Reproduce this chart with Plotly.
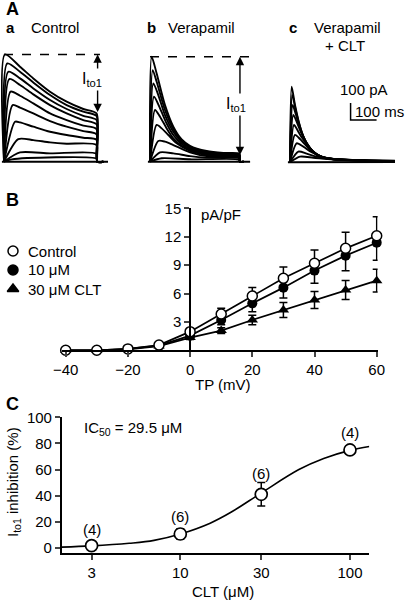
import math
import plotly.graph_objects as go

W, H = 407, 602
FONT = "Arial, Liberation Sans, Helvetica, sans-serif"

# ---------------- Panel A data (time in ms, current in pA) ----------------
a_t = [
    [0, 3.8, 61.5, 112.8, 177, 241, 305, 356, 359, 382],
    [0, 12.8, 61.5, 112.8, 177, 241, 305, 356, 359, 382],
    [0, 16.7, 61.5, 112.8, 177, 241, 305, 356, 359, 382],
    [0, 20.5, 61.5, 112.8, 177, 241, 305, 356, 359, 382],
    [0, 25.6, 61.5, 112.8, 177, 241, 305, 356, 359, 382],
    [0, 33.3, 61.5, 112.8, 177, 241, 305, 356, 359, 382],
    [0, 42.3, 61.5, 112.8, 177, 241, 305, 356, 359, 382],
    [0, 55, 112.8, 177, 241, 356, 359, 382],
    [0, 61.5, 177, 356, 359, 382],
    [0, 30, 356, 359, 382],
    [-8, 408],
]
a_i = [
    [0, 631, 559, 490, 412, 353, 310, 284, 0, 0],
    [0, 578, 529, 466, 392, 333, 294, 269, 0, 0],
    [0, 529, 490, 431, 363, 310, 270, 245, 0, 0],
    [0, 486, 451, 396, 333, 284, 245, 220, 0, 0],
    [0, 412, 388, 343, 284, 245, 212, 192, 0, 0],
    [0, 333, 318, 284, 239, 206, 180, 161, 0, 0],
    [0, 235, 231, 206, 176, 157, 141, 129, 0, 0],
    [0, 133, 127, 114, 106, 98, 0, 0],
    [0, 55, 49, 47, 0, 0],
    [0, 14, 18, 0, 0],
    [0, 0],
]

b_t = [
    [0, 6.4, 25.6, 57.7, 89.7, 121.8, 153.8, 217.9, 282, 343.6, 346, 360],
    [0, 10.3, 25.6, 57.7, 89.7, 121.8, 153.8, 217.9, 282, 343.6, 346, 360],
    [0, 12.8, 32, 57.7, 89.7, 121.8, 153.8, 217.9, 282, 343.6, 346, 360],
    [0, 15.4, 38.5, 64.1, 89.7, 121.8, 153.8, 217.9, 282, 343.6, 346, 360],
    [0, 19.2, 38.5, 64.1, 89.7, 121.8, 153.8, 217.9, 282, 343.6, 346, 360],
    [0, 25.6, 44.9, 70.5, 102.6, 153.8, 217.9, 282, 343.6, 346, 360],
    [0, 32, 57.7, 89.7, 153.8, 217.9, 343.6, 346, 360],
    [0, 38.5, 89.7, 153.8, 217.9, 343.6, 346, 360],
    [0, 44.9, 153.8, 343.6, 346, 360],
    [-8, 385],
]
b_i = [
    [0, 617, 519, 333, 206, 131, 94, 63, 51, 47, 0, 0],
    [0, 539, 470, 304, 192, 123, 88, 59, 47, 43, 0, 0],
    [0, 461, 392, 274, 176, 114, 82, 55, 45, 41, 0, 0],
    [0, 382, 314, 225, 157, 104, 74, 51, 41, 39, 0, 0],
    [0, 304, 265, 196, 137, 94, 69, 45, 37, 35, 0, 0],
    [0, 216, 196, 157, 108, 63, 39, 33, 31, 0, 0],
    [0, 122, 118, 98, 55, 33, 25, 0, 0],
    [0, 55, 49, 33, 24, 20, 0, 0],
    [0, 20, 14, 12, 0, 0],
    [0, 0],
]

c_t = [
    [0, 6.4, 19.2, 32, 44.9, 64.1, 89.7, 121.8, 166.7, 282, 403.8],
    [0, 9, 21.8, 34.6, 47.4, 64.1, 89.7, 121.8, 166.7, 282, 403.8],
    [0, 10.3, 23.1, 38.5, 51.3, 70.5, 89.7, 121.8, 166.7, 282, 403.8],
    [0, 12.8, 28.2, 41, 57.7, 76.9, 102.6, 141, 282, 403.8],
    [0, 15.4, 32, 44.9, 64.1, 83.3, 109, 141, 282, 403.8],
    [0, 19.2, 38.5, 57.7, 83.3, 115.4, 153.8, 282, 403.8],
    [0, 25.6, 51.3, 83.3, 121.8, 166.7, 403.8],
    [0, 32, 64.1, 102.6, 166.7, 403.8],
    [0, 38.5, 89.7, 166.7, 403.8],
    [-8, 403.8],
]
c_i = [
    [0, 445, 337, 249, 180, 112, 63, 33, 20, 12, 10],
    [0, 396, 308, 229, 167, 108, 61, 31, 18, 12, 8],
    [0, 337, 278, 200, 151, 98, 59, 29, 18, 10, 8],
    [0, 278, 229, 180, 131, 82, 47, 24, 10, 8],
    [0, 220, 180, 147, 108, 73, 43, 24, 10, 8],
    [0, 161, 137, 106, 67, 37, 22, 10, 6],
    [0, 112, 92, 59, 33, 20, 6],
    [0, 63, 51, 33, 18, 6],
    [0, 33, 27, 16, 4],
    [0, 2],
]

# ---------------- Panel B data ----------------
tp_mv = [-40, -30, -20, -10, 0, 10, 20, 30, 40, 50, 60]
ctrl = [0, 0, 0.15, 0.55, 1.97, 3.84, 5.74, 7.6, 9.19, 10.77, 12.1]
ctrl_err = [0, 0, 0, 0, 0.3, 0.6, 0.9, 1.2, 1.4, 1.7, 2.0]
clt10 = [0, 0, 0.15, 0.5, 1.55, 3.2, 4.96, 6.62, 8.42, 10.0, 11.37]
clt10_err = [0, 0, 0, 0, 0.2, 0.5, 0.9, 1.1, 1.35, 1.6, 1.85]
clt30 = [0, 0, 0.1, 0.45, 1.34, 2.08, 3.2, 4.26, 5.32, 6.37, 7.36]
clt30_err = [0, 0, 0, 0, 0.2, 0.3, 0.5, 0.8, 0.9, 1.0, 1.2]
b_xticks = [-40, -20, 0, 20, 40, 60]
b_yticks = [3, 6, 9, 12, 15]
legend_names = ['Control', '10 μM', '30 μM CLT']

# ---------------- Panel C data ----------------
c_conc = [3, 10, 30, 100]
c_inh = [1.8, 10.7, 41.1, 75.0]
c_err = [1.0, 4.0, 9.0, 1.5]
c_n = [4, 6, 6, 4]
fit_conc = [2, 3, 5, 7, 10, 15, 20, 30, 50, 70, 100, 130]
fit_inh = [0.7, 1.6, 3.6, 5.8, 10.7, 19.0, 27.5, 42.1, 60.0, 68.5, 74.7, 77.6]
c_yticks = [0, 20, 40, 60, 80, 100]

fig = go.Figure()


def px(x):
    return x / W


def py(y):
    return 1 - y / H


TICKFONT = dict(size=15, color='black', family=FONT)

# ---------- Panel A ----------
SX, SY = 0.26, 0.17  # px per ms, px per pA
IR = (-40, 700)
panels = [
    dict(t0=4, base=161.7, tr=(-12, 400), t=a_t, i=a_i),
    dict(t0=150, base=161.7, tr=(-12, 420), t=b_t, i=b_i),
    dict(t0=290, base=162.3, tr=(-12, 440), t=c_t, i=c_i),
]
for k, p in enumerate(panels):
    n = k + 3
    xd = [(p['t0'] + p['tr'][0] * SX) / W, (p['t0'] + p['tr'][1] * SX) / W]
    yd = [1 - (p['base'] - IR[0] * SY) / H, 1 - (p['base'] - IR[1] * SY) / H]
    fig.update_layout(**{
        f'xaxis{n}': dict(domain=xd, range=list(p['tr']), visible=False, anchor=f'y{n}', automargin=False),
        f'yaxis{n}': dict(domain=yd, range=list(IR), visible=False, anchor=f'x{n}', automargin=False),
    })
    for t, i in zip(p['t'], p['i']):
        fig.add_trace(go.Scatter(x=t, y=i, mode='lines', xaxis=f'x{n}', yaxis=f'y{n}',
                                 line=dict(color='black', width=1.9, shape='spline', smoothing=0.7),
                                 showlegend=False, hoverinfo='skip'))

# dashed peak lines and arrows
peak_a = max(a_i[0])
peak_b = max(b_i[0])
fig.add_trace(go.Scatter(x=[0, 369], y=[peak_a, peak_a], mode='lines', xaxis='x3', yaxis='y3',
                         line=dict(color='black', width=1.5, dash='dash'), showlegend=False))
fig.add_trace(go.Scatter(x=[0, 385], y=[peak_b, peak_b], mode='lines', xaxis='x4', yaxis='y4',
                         line=dict(color='black', width=1.5, dash='dash'), showlegend=False))


def arrow(xr, yr, x, ytip, ytail):
    fig.add_annotation(x=x, y=ytip, ax=x, ay=ytail, xref=xr, yref=yr, axref=xr, ayref=yr,
                       showarrow=True, arrowhead=2, arrowsize=1.2, arrowwidth=1.4,
                       arrowcolor='black', text='')


arrow('x3', 'y3', 360, peak_a, 481)
arrow('x3', 'y3', 360, 292, 481)
arrow('x4', 'y4', 346, peak_b, 334)
arrow('x4', 'y4', 346, 39, 334)
for xr, yr, x, y in [('x3', 'y3', 338, 481), ('x4', 'y4', 331, 334)]:
    fig.add_annotation(x=x, y=y, xref=xr, yref=yr, text='I<sub>to1</sub>', showarrow=False,
                       bgcolor='white', font=dict(size=16, color='black', family=FONT))

# scale bar (100 ms, 100 pA)
fig.add_trace(go.Scatter(x=[233, 233, 333], y=[349, 249, 249], mode='lines', xaxis='x5', yaxis='y5',
                         line=dict(color='black', width=1.5), showlegend=False))

# ---------- Panel B ----------
fig.update_layout(
    xaxis=dict(domain=[px(61.66), px(377.63)], range=[-41.3, 60.3], anchor='y', automargin=False,
               tickvals=b_xticks, ticks='outside', ticklen=5, tickwidth=1.5,
               showline=True, linewidth=1.5, linecolor='black', showgrid=False, zeroline=False,
               tickfont=TICKFONT),
    yaxis=dict(domain=[py(350.3), py(208.3)], range=[0, 15], anchor='free', position=190 / W,
               automargin=False,
               tickvals=b_yticks, ticks='outside', ticklen=5, tickwidth=1.5,
               showline=True, linewidth=1.5, linecolor='black', showgrid=False, zeroline=False,
               tickfont=TICKFONT),
)
fig.add_trace(go.Scatter(x=tp_mv, y=clt30, mode='lines+markers', xaxis='x', yaxis='y', cliponaxis=False,
                         line=dict(color='black', width=1.7),
                         marker=dict(symbol='triangle-up', size=10, color='black'),
                         error_y=dict(type='data', array=clt30_err, symmetric=True, color='black',
                                      thickness=1.5, width=4), showlegend=False))
fig.add_trace(go.Scatter(x=tp_mv, y=clt10, mode='lines+markers', xaxis='x', yaxis='y', cliponaxis=False,
                         line=dict(color='black', width=1.7),
                         marker=dict(symbol='circle', size=10, color='black'),
                         error_y=dict(type='data', array=[0] * len(clt10), arrayminus=clt10_err,
                                      symmetric=False, color='black', thickness=1.5, width=4),
                         showlegend=False))
fig.add_trace(go.Scatter(x=tp_mv, y=ctrl, mode='lines+markers', xaxis='x', yaxis='y', cliponaxis=False,
                         line=dict(color='black', width=1.7),
                         marker=dict(symbol='circle', size=10, color='white', line=dict(color='black', width=1.5)),
                         error_y=dict(type='data', array=ctrl_err, arrayminus=[0] * len(ctrl),
                                      symmetric=False, color='black', thickness=1.5, width=4),
                         showlegend=False))

# legend key (pixel-space overlay axis)
fig.update_layout(
    xaxis6=dict(domain=[0, 1], range=[0, W], visible=False, anchor='y6', automargin=False),
    yaxis6=dict(domain=[0, 1], range=[H, 0], visible=False, anchor='x6', automargin=False),
)
leg_y = [251, 270, 289]
fig.add_trace(go.Scatter(x=[13, 13, 13], y=leg_y, mode='markers', xaxis='x6', yaxis='y6',
                         marker=dict(symbol=['circle', 'circle', 'triangle-up'], size=10,
                                     color=['white', 'black', 'black'], line=dict(color='black', width=1.5)),
                         showlegend=False, hoverinfo='skip'))
for yy, name in zip(leg_y, legend_names):
    fig.add_annotation(x=px(26), y=py(yy), xref='paper', yref='paper', text=name, showarrow=False,
                       xanchor='left', yanchor='middle', font=dict(size=15, color='black', family=FONT))

# ---------- Panel C ----------
fig.update_layout(
    xaxis2=dict(type='log', domain=[px(61.7), px(369.3)], range=[math.log10(2.0), math.log10(130)],
                anchor='y2', automargin=False, tickvals=c_conc, ticktext=[str(v) for v in c_conc],
                ticks='outside', ticklen=5, tickwidth=1.5, showline=True, linewidth=1.5,
                linecolor='black', showgrid=False, zeroline=False, tickfont=TICKFONT),
    yaxis2=dict(domain=[py(553.3), py(417.3)], range=[-4.06, 100], anchor='x2', automargin=False,
                tickvals=c_yticks, ticks='outside', ticklen=5, tickwidth=1.5, showline=True,
                linewidth=1.5, linecolor='black', showgrid=False, zeroline=False, tickfont=TICKFONT),
)
fig.add_trace(go.Scatter(x=fit_conc, y=fit_inh, mode='lines', xaxis='x2', yaxis='y2',
                         line=dict(color='black', width=1.6, shape='spline', smoothing=1.0),
                         showlegend=False))
fig.add_trace(go.Scatter(x=c_conc, y=c_inh, mode='markers', xaxis='x2', yaxis='y2', cliponaxis=False,
                         marker=dict(symbol='circle', size=12, color='white', line=dict(color='black', width=1.7)),
                         error_y=dict(type='data', array=c_err, color='black', thickness=1.5, width=4),
                         showlegend=False))
for x, y, n, s in zip(c_conc, c_inh, c_n, [16, 18, 21, 17]):
    fig.add_annotation(x=math.log10(x), y=y, xref='x2', yref='y2', text=f'({n})', showarrow=False,
                       yshift=s, font=dict(size=15, color='black', family=FONT))


# ---------- Text ----------
def txt(x, y, s, size=15, bold=False, xanchor='left', angle=0):
    fig.add_annotation(x=px(x), y=py(y), xref='paper', yref='paper', text=f'<b>{s}</b>' if bold else s,
                       showarrow=False, xanchor=xanchor, yanchor='middle', textangle=angle,
                       font=dict(size=size, color='black', family=FONT))


txt(4, 9, 'A', 18, True)
txt(4, 28, 'a', 15, True)
txt(29, 27, 'Control')
txt(145, 28, 'b', 15, True)
txt(166, 27, 'Verapamil')
txt(287, 28, 'c', 15, True)
txt(312, 27, 'Verapamil')
txt(323, 46, '+ CLT')
txt(338, 90, '100 pA', 15)
txt(353, 111, '100 ms', 15)
txt(4, 200, 'B', 18, True)
txt(199, 214, 'pA/pF', 15)
txt(223, 384, 'TP (mV)', 15, xanchor='center')
txt(4, 404, 'C', 18, True)
txt(82, 429, 'IC<sub>50</sub> = 29.5 μM', 15)
txt(223, 591, 'CLT (μM)', 15, xanchor='center')
txt(13, 482, 'I<sub>to1</sub> inhibition (%)', 15, xanchor='center', angle=-90)

fig.update_layout(
    width=W, height=H, autosize=False,
    margin=dict(l=0, r=0, t=0, b=0, autoexpand=False),
    paper_bgcolor='white', plot_bgcolor='rgba(0,0,0,0)',
    font=dict(family=FONT, color='black', size=14),
    showlegend=False,
)

fig.write_html("out.html", config={'displayModeBar': False},
               post_script="document.body.style.margin='0';document.body.style.overflow='hidden';")
